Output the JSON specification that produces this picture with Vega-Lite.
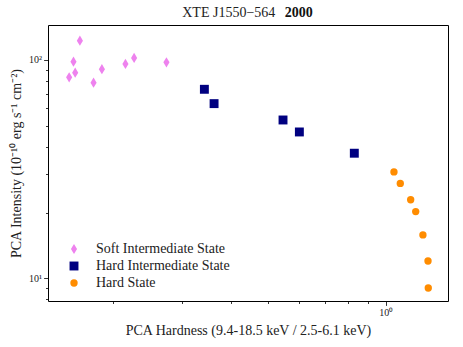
{
  "$schema": "https://vega.github.io/schema/vega-lite/v6.json",
  "width": 400,
  "height": 276,
  "padding": {"left": 9, "top": 6, "right": 11, "bottom": 5},
  "background": "white",
  "config": {
    "view": {"stroke": "#000", "strokeWidth": 1},
    "font": "Liberation Serif"
  },
  "title": {
    "text": "XTE J1550−564\u00a0\u00a0\u00a0\u00a0\u00a0\u00a0\u00a0\u00a0\u00a0\u00a0\u00a0\u200b",
    "subtitle": "\u200b\u00a0\u00a0\u00a0\u00a0\u00a0\u00a0\u00a0\u00a0\u00a0\u00a0\u00a0\u00a0\u00a0\u00a0\u00a0\u00a0\u00a0\u00a0\u00a0\u00a0\u00a0\u00a0\u00a0\u00a0\u00a0\u00a0\u00a0\u00a0\u00a02000",
    "anchor": "middle",
    "frame": "group",
    "font": "Liberation Serif",
    "fontSize": 14,
    "fontWeight": "normal",
    "color": "#222",
    "subtitleFont": "Liberation Serif",
    "subtitleFontSize": 14,
    "subtitleFontWeight": "bold",
    "subtitleColor": "#111",
    "subtitlePadding": -14,
    "offset": 5
  },
  "data": {
    "values": [
      {"state": "Soft Intermediate State", "hardness": 0.1541, "intensity": 83.3},
      {"state": "Soft Intermediate State", "hardness": 0.1581, "intensity": 98.2},
      {"state": "Soft Intermediate State", "hardness": 0.1597, "intensity": 87.5},
      {"state": "Soft Intermediate State", "hardness": 0.1642, "intensity": 122.6},
      {"state": "Soft Intermediate State", "hardness": 0.1780, "intensity": 78.7},
      {"state": "Soft Intermediate State", "hardness": 0.1870, "intensity": 90.7},
      {"state": "Soft Intermediate State", "hardness": 0.2149, "intensity": 95.9},
      {"state": "Soft Intermediate State", "hardness": 0.2262, "intensity": 102.1},
      {"state": "Soft Intermediate State", "hardness": 0.2738, "intensity": 97.6},
      {"state": "Hard Intermediate State", "hardness": 0.3426, "intensity": 73.4},
      {"state": "Hard Intermediate State", "hardness": 0.3628, "intensity": 63.1},
      {"state": "Hard Intermediate State", "hardness": 0.5452, "intensity": 53.1},
      {"state": "Hard Intermediate State", "hardness": 0.6005, "intensity": 46.8},
      {"state": "Hard Intermediate State", "hardness": 0.8308, "intensity": 37.4},
      {"state": "Hard State", "hardness": 1.050, "intensity": 30.7},
      {"state": "Hard State", "hardness": 1.090, "intensity": 27.2},
      {"state": "Hard State", "hardness": 1.159, "intensity": 22.9},
      {"state": "Hard State", "hardness": 1.194, "intensity": 20.2},
      {"state": "Hard State", "hardness": 1.246, "intensity": 15.8},
      {"state": "Hard State", "hardness": 1.284, "intensity": 12.0},
      {"state": "Hard State", "hardness": 1.286, "intensity": 9.03}
    ]
  },
  "mark": {"type": "point", "filled": true, "opacity": 1},
  "encoding": {
    "x": {
      "field": "hardness",
      "type": "quantitative",
      "scale": {"type": "log", "domain": [0.136, 1.445], "nice": false, "zero": false},
      "axis": {
        "title": "PCA Hardness (9.4-18.5 keV / 2.5-6.1 keV)",
        "titleFont": "Liberation Serif",
        "titleFontSize": 14,
        "titleFontWeight": "normal",
        "titleColor": "#222",
        "titlePadding": 6,
        "values": [0.2, 0.3, 0.4, 0.5, 0.6, 0.7, 0.8, 0.9, 1],
        "labelExpr": "datum.value == 1 ? '10⁰' : ''",
        "labelFont": "Liberation Serif",
        "labelFontSize": 10,
        "labelColor": "#222",
        "labelPadding": 2,
        "labelFlush": false,
        "labelOverlap": false,
        "domain": false,
        "grid": false,
        "tickColor": "#000",
        "tickWidth": 0.8,
        "tickSize": {"condition": {"test": "datum.value == 1", "value": 4.4}, "value": 2.5}
      }
    },
    "y": {
      "field": "intensity",
      "type": "quantitative",
      "scale": {"type": "log", "domain": [7.87, 144.6], "nice": false, "zero": false},
      "axis": {
        "title": "PCA Intensity (10⁻¹⁰ erg s⁻¹ cm⁻²)",
        "titleFont": "Liberation Serif",
        "titleFontSize": 14,
        "titleFontWeight": "normal",
        "titleColor": "#222",
        "titlePadding": 5,
        "values": [8, 9, 10, 20, 30, 40, 50, 60, 70, 80, 90, 100],
        "labelExpr": "datum.value == 100 ? '10²' : datum.value == 10 ? '10¹' : ''",
        "labelFont": "Liberation Serif",
        "labelFontSize": 10,
        "labelColor": "#222",
        "labelPadding": 2,
        "labelFlush": false,
        "labelOverlap": false,
        "domain": false,
        "grid": false,
        "tickColor": "#000",
        "tickWidth": 0.8,
        "tickSize": {"condition": {"test": "datum.value == 10 || datum.value == 100", "value": 4.4}, "value": 2.5}
      }
    },
    "color": {
      "field": "state",
      "type": "nominal",
      "scale": {
        "domain": ["Soft Intermediate State", "Hard Intermediate State", "Hard State"],
        "range": ["#EE82EE", "#000080", "#FF8C00"]
      },
      "legend": {
        "title": null,
        "orient": "none",
        "legendX": 19,
        "legendY": 217,
        "padding": 0,
        "labelFont": "Liberation Serif",
        "labelFontSize": 14,
        "labelColor": "#222",
        "labelOffset": 15,
        "rowPadding": 3,
        "symbolOpacity": 1,
        "symbolStrokeWidth": 0
      }
    },
    "shape": {
      "field": "state",
      "type": "nominal",
      "scale": {
        "domain": ["Soft Intermediate State", "Hard Intermediate State", "Hard State"],
        "range": ["M0,-1L0.6,0L0,1L-0.6,0Z", "square", "circle"]
      }
    },
    "size": {
      "field": "state",
      "type": "nominal",
      "scale": {
        "domain": ["Soft Intermediate State", "Hard Intermediate State", "Hard State"],
        "range": [105, 54, 52]
      }
    }
  }
}
